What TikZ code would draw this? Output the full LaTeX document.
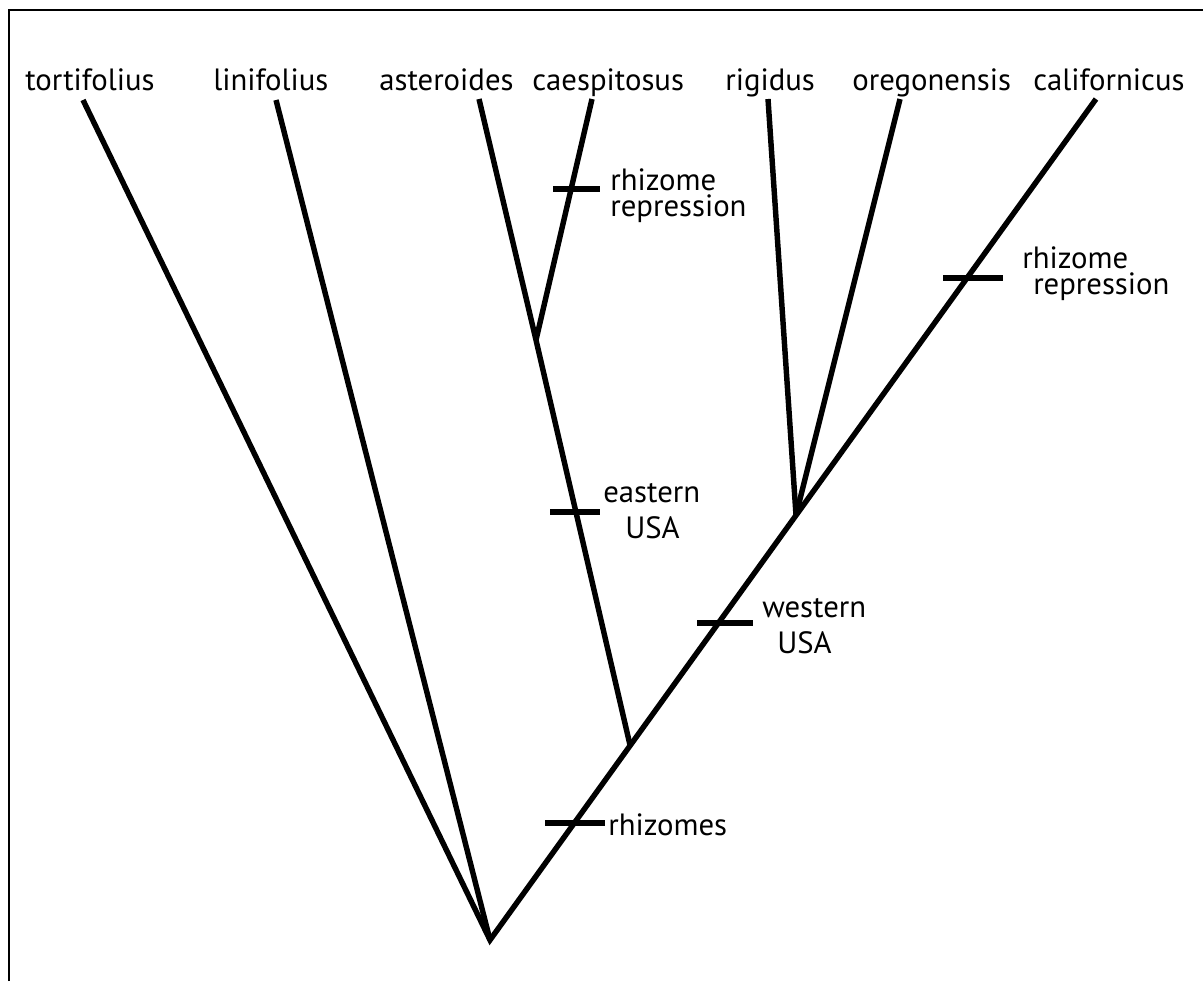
\documentclass[tikz,border=0pt]{standalone}
\usepackage{fontspec}
\setmainfont{PT Sans}
\usetikzlibrary{positioning}

\begin{document}
\begin{tikzpicture}[
    x=0.02cm, y=-0.02cm,
    frame/.style={line width=1.1pt},
    branch/.style={line width=3.1pt, miter limit=20},
    tick/.style={line width=3.1pt},
    taxon/.style={anchor=base west, inner sep=0pt, font=\fontsize{17.5}{21}\selectfont},
    trait/.style={anchor=base west, inner sep=0pt, align=left, font=\fontsize{17.5}{14.6}\selectfont},
    region/.style={trait, font=\fontsize{17.5}{20.4}\selectfont}
]
\useasboundingbox (0,0) rectangle (1203,981);

% Frame (top and left edges)
\draw[frame] (9,981) -- (9,10) -- (1203,10);

% Taxa
\node[taxon] (tort) at (25,90) {tortifolius};
\node[taxon] (lini) at (213,90) {linifolius};
\node[taxon] (aster) at (379,90) {asteroides};
\node[taxon] (caesp) at (532,90) {caespitosus};
\node[taxon] (rigid) at (725,90) {rigidus};
\node[taxon] (oreg) at (852,90) {oregonensis};
\node[taxon] (calif) at (1033,90) {californicus};

% Branch tips and internal nodes
\coordinate (tort-tip) at (83,100);
\coordinate (lini-tip) at (276,100);
\coordinate (aster-tip) at (479,99);
\coordinate (caesp-tip) at (592,99);
\coordinate (rigid-tip) at (768,99);
\coordinate (oreg-tip) at (900,99);
\coordinate (calif-tip) at (1096,99);
\coordinate (root) at (490,940);
\coordinate (ac) at (536,340);
\coordinate (east-base) at (630,745);
\coordinate (ro) at (796,515);

% Branches
\draw[branch] (tort-tip) -- (root) -- (calif-tip);
\draw[branch] (lini-tip) -- (root);
\draw[branch] (aster-tip) -- (ac) -- (east-base);
\draw[branch] (caesp-tip) -- (ac);
\draw[branch] (rigid-tip) -- (ro);
\draw[branch] (oreg-tip) -- (ro);

% Character changes (base anchor sits on the last line)
\draw[tick] (553,189) -- (600,189);
\node[trait] (rep1) at (610,216) {rhizome\\repression};
\draw[tick] (943,278) -- (1003,278);
\node[trait] (rep2) at (1022,294) {rhizome\\\hspace*{6.2pt}repression};
\draw[tick] (550,512) -- (600,512);
\node[region] (east) at (603,538) {eastern\\\hspace*{12.5pt}USA};
\draw[tick] (697,623) -- (753,623);
\node[region] (west) at (762,653) {western\\\hspace*{8.5pt}USA};
\draw[tick] (545,823) -- (605,823);
\node[trait] (rhiz) at (608,835) {rhizomes};

\end{tikzpicture}
\end{document}
